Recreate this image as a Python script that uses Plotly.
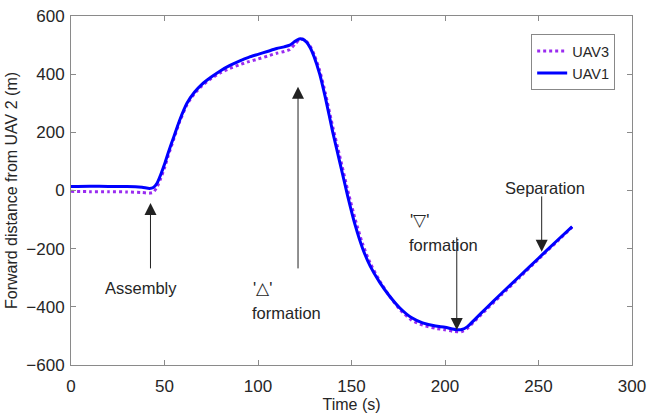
import plotly.graph_objects as go

# Time samples (s) shared by both vehicles
time_s = [0, 10, 20, 30, 38, 42, 44, 46, 48, 50, 52, 55, 58, 62, 66, 70, 75, 80,
          85, 90, 95, 100, 105, 110, 114, 117, 120, 122, 124, 126, 128, 130, 133,
          136, 140, 144, 148, 152, 156, 160, 165, 170, 176, 182, 188, 195, 200,
          204, 207, 209, 212, 216, 222, 230, 240, 250, 260, 268]

# Forward distance from UAV 2 (m)
uav1 = [14, 15, 14, 14, 11, 7, 10, 25, 55, 90, 130, 185, 240, 300, 338, 365, 390,
        412, 430, 445, 458, 468, 478, 488, 494, 500, 514, 521, 520, 510, 490, 460,
        400, 320, 200, 90, -20, -120, -200, -260, -315, -360, -405, -437, -455,
        -466, -470, -476, -479, -478, -468, -443, -405, -355, -294, -233, -172, -124]

uav3 = [-3, -4, -4, -5, -7, -9, -6, 12, 42, 78, 120, 178, 235, 295, 333, 360, 385,
        405, 420, 432, 443, 452, 462, 472, 478, 485, 505, 518, 520, 512, 495, 468,
        412, 335, 218, 110, 0, -100, -185, -250, -310, -360, -410, -445, -463,
        -474, -479, -484, -486, -485, -474, -448, -410, -360, -298, -236, -175, -126]

x_ticks = [0, 50, 100, 150, 200, 250, 300]
y_ticks = [-600, -400, -200, 0, 200, 400, 600]

# Event labels: (text, x, y)
event_labels = [
    ("Assembly", 37.5, -335),
    ("'\u25b3'", 102.5, -335),
    ("formation", 115.5, -421),
    ("'\u25bd'", 186.5, -101),
    ("formation", 199, -187),
    ("Separation", 253.5, 9),
]
# Event arrows: (tail x, tail y, tip x, tip y)
event_arrows = [
    (42.5, -273, 42.5, -43),
    (121.4, -273, 121.4, 357),
    (206.3, -156, 206.3, -480),
    (251.7, -15, 251.7, -211),
]

FONT = "Liberation Sans, Arial, Helvetica, sans-serif"
TXT = "#262626"
AXC = "#8a8a8a"

fig = go.Figure()
fig.add_trace(go.Scatter(x=time_s, y=uav3, mode="lines", name="UAV3",
                         line=dict(color="#9a2bf0", width=3, dash="dot", shape="spline",
                                   smoothing=0.6)))
fig.add_trace(go.Scatter(x=time_s, y=uav1, mode="lines", name="UAV1",
                         line=dict(color="#0000ff", width=3, shape="spline",
                                   smoothing=0.6)))

annotations = []
for txt, x, y in event_labels:
    annotations.append(dict(x=x, y=y, xref="x", yref="y", text=txt, showarrow=False,
                            font=dict(family=FONT, size=16.5, color=TXT)))
for tx, ty, hx, hy in event_arrows:
    annotations.append(dict(x=hx, y=hy, ax=tx, ay=ty, xref="x", yref="y",
                            axref="x", ayref="y", text="", showarrow=True,
                            arrowhead=2, arrowsize=2.4, arrowwidth=1,
                            arrowcolor="#222222", standoff=0, startstandoff=0))

axis_common = dict(showline=True, linecolor=AXC, linewidth=1, mirror="ticks",
                   ticks="inside", ticklen=5, tickcolor=AXC, showgrid=False,
                   zeroline=False, automargin=False,
                   tickfont=dict(family=FONT, size=17, color=TXT))

fig.update_layout(
    width=647, height=414,
    margin=dict(l=71, r=15, t=16, b=49),
    paper_bgcolor="white", plot_bgcolor="white",
    showlegend=True,
    legend=dict(x=0.970, y=0.948, xanchor="right", yanchor="top",
                bgcolor="white", bordercolor="#888888", borderwidth=1,
                font=dict(family=FONT, size=14.5, color=TXT),
                tracegroupgap=0),
    xaxis=dict(range=[0, 300], tickvals=x_ticks, ticklabelstandoff=6,
               title=dict(text="Time (s)", font=dict(family=FONT, size=16, color=TXT),
                          standoff=2),
               **axis_common),
    yaxis=dict(range=[-600, 600], tickvals=y_ticks, ticklabelstandoff=2,
               title=dict(text="Forward distance from UAV 2 (m)",
                          font=dict(family=FONT, size=16, color=TXT), standoff=4),
               **axis_common),
    annotations=annotations,
)

fig.write_html("out.html")
